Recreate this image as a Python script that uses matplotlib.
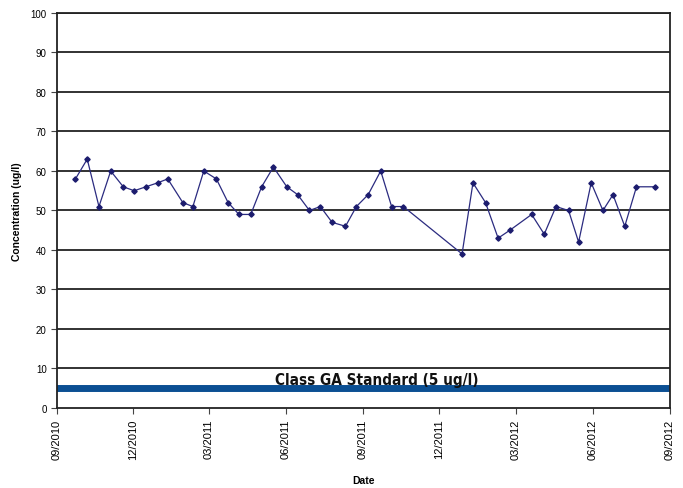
import datetime as dt
import matplotlib
matplotlib.use('Agg')
import matplotlib.pyplot as plt
import matplotlib.dates as mdates
from matplotlib.transforms import blended_transform_factory

# Sampling dates and measured concentrations (ug/l)
dates = ['2010-09-23', '2010-10-07', '2010-10-21', '2010-11-04', '2010-11-19',
         '2010-12-02', '2010-12-16', '2010-12-30', '2011-01-11', '2011-01-29',
         '2011-02-10', '2011-02-23', '2011-03-10', '2011-03-24', '2011-04-06',
         '2011-04-20', '2011-05-03', '2011-05-17', '2011-06-02', '2011-06-15',
         '2011-06-29', '2011-07-12', '2011-07-26', '2011-08-11', '2011-08-24',
         '2011-09-07', '2011-09-22', '2011-10-05', '2011-10-19', '2011-12-28',
         '2012-01-10', '2012-01-25', '2012-02-09', '2012-02-23', '2012-03-20',
         '2012-04-04', '2012-04-18', '2012-05-03', '2012-05-15', '2012-05-30',
         '2012-06-13', '2012-06-25', '2012-07-09', '2012-07-23', '2012-08-14']
values = [58, 63, 51, 60, 56, 55, 56, 57, 58, 52,
          51, 60, 58, 52, 49, 49, 56, 61, 56, 54,
          50, 51, 47, 46, 51, 54, 60, 51, 51, 39,
          57, 52, 43, 45, 49, 44, 51, 50, 42, 57,
          50, 54, 46, 56, 56]
standard = 5
standard_label = 'Class GA Standard (5 ug/l)'

x = [dt.datetime.strptime(d, '%Y-%m-%d') for d in dates]

plt.rcParams['font.family'] = ['Liberation Sans', 'DejaVu Sans']

fig = plt.figure(figsize=(6.83, 4.89), dpi=100)
ax = fig.add_axes([0.0835, 0.1636, 0.8975, 0.8078])

# horizontal gridlines every 10
for g in range(10, 101, 10):
    ax.axhline(g, color='#222222', linewidth=1.3, zorder=1)

# standard line
ax.axhline(standard, color='#0b4f93', linewidth=5, zorder=2)
ax.text(0.522, standard + 0.3, standard_label,
        transform=blended_transform_factory(ax.transAxes, ax.transData),
        ha='center', va='bottom', fontsize=11, fontweight='bold',
        family='DejaVu Sans', fontstretch='condensed',
        color='#111111', zorder=4)

# data series
ax.plot(x, values, color='#2b2b80', linewidth=0.9, marker='D',
        markersize=2.7, markerfacecolor='#1c1c6e', markeredgecolor='#1c1c6e', zorder=3)

ax.set_ylim(0, 100)
ax.set_yticks(range(0, 101, 10))
ax.set_xlim(dt.datetime(2010, 9, 1), dt.datetime(2012, 9, 1))
ax.xaxis.set_major_locator(mdates.MonthLocator(bymonth=[3, 6, 9, 12]))
ax.xaxis.set_major_formatter(mdates.DateFormatter('%m/%Y'))
plt.setp(ax.get_xticklabels(), rotation=90)

ax.tick_params(axis='y', labelsize=7, length=4, width=0.8, color='#444444')
ax.tick_params(axis='x', labelsize=8, length=4, width=0.8, color='#444444')
for s in ax.spines.values():
    s.set_linewidth(1.3)
    s.set_color('#222222')

ax.set_xlabel('Date', fontsize=7.5, fontweight='bold', labelpad=12)
ax.set_ylabel('Concentration (ug/l)', fontsize=7.5, fontweight='bold', labelpad=6)

plt.savefig('out.png', dpi=100)
